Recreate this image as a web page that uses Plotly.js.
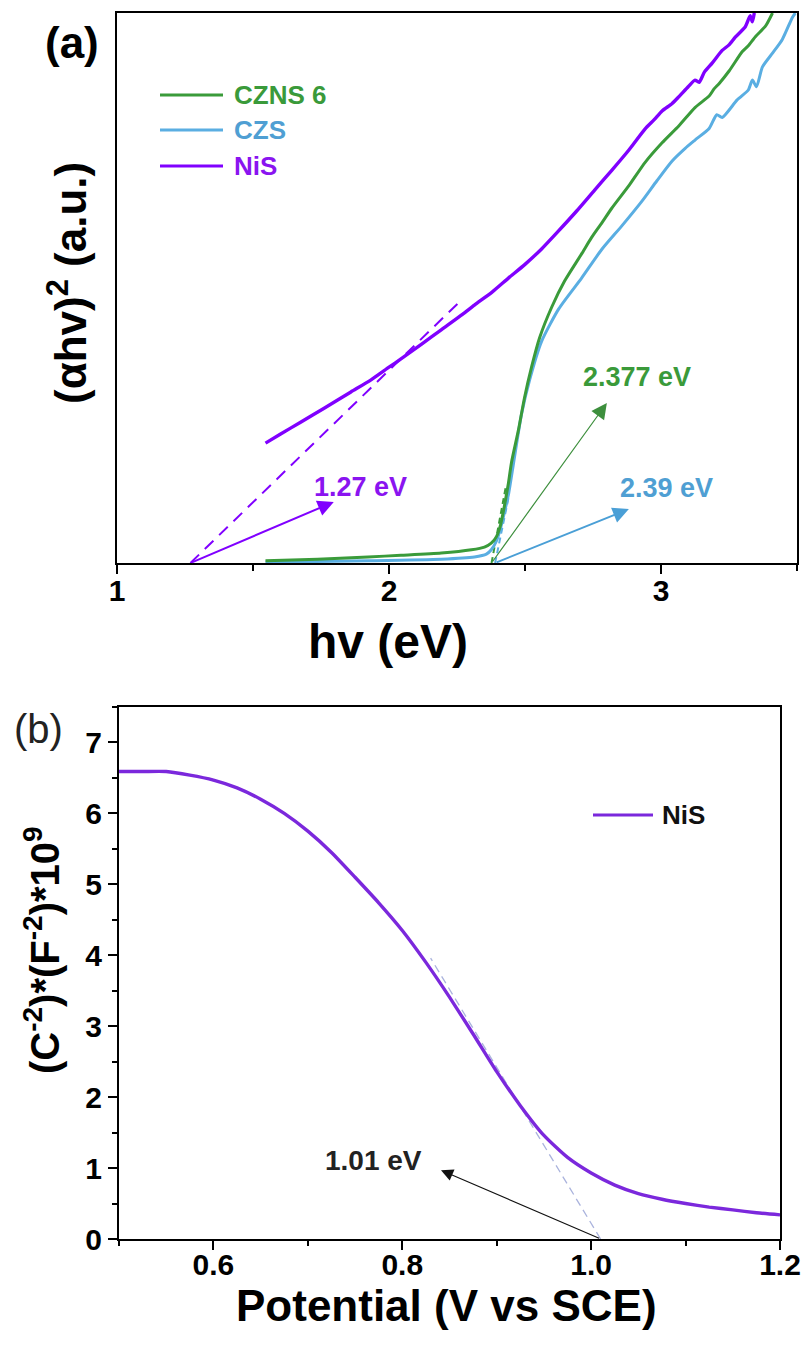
<!DOCTYPE html>
<html>
<head>
<meta charset="utf-8">
<script src="https://cdn.plot.ly/plotly-3.0.1.min.js"></script>
<style>
  html, body { margin: 0; padding: 0; background: #fff; }
  #fig { width: 806px; height: 1345px; }
</style>
</head>
<body>
<div id="fig"></div>
<script>
// ---- (a) Tauc plot: photon energy (eV) vs (αhv)^2 (a.u.) ----
const hvNiS  = [1.546,1.600,1.675,1.760,1.860,1.934,2.000,2.044,2.120,2.192,2.270,2.314,2.380,2.439,2.500,2.561,2.620,2.690,2.756,2.819,2.882,2.941,2.975,3.004,3.040,3.066,3.100,3.125,3.140,3.160,3.188,3.225,3.250,3.273,3.310,3.328,3.336,3.343];
const ahvNiS = [0.218,0.234,0.256,0.281,0.311,0.333,0.356,0.371,0.398,0.424,0.452,0.469,0.493,0.518,0.543,0.571,0.602,0.640,0.678,0.714,0.751,0.789,0.806,0.822,0.835,0.848,0.866,0.878,0.874,0.893,0.909,0.932,0.942,0.956,0.975,0.995,0.984,1.000];

const hvCZNS  = [1.546,1.675,1.800,1.923,2.044,2.192,2.303,2.351,2.376,2.395,2.410,2.424,2.439,2.450,2.476,2.498,2.524,2.554,2.598,2.646,2.708,2.745,2.782,2.819,2.882,2.941,3.004,3.066,3.125,3.177,3.195,3.214,3.251,3.299,3.320,3.347,3.384,3.410];
const ahvCZNS = [0.004,0.006,0.008,0.011,0.014,0.018,0.024,0.029,0.036,0.048,0.069,0.103,0.145,0.182,0.242,0.300,0.356,0.410,0.465,0.513,0.562,0.592,0.618,0.645,0.686,0.728,0.764,0.795,0.828,0.849,0.862,0.872,0.895,0.930,0.940,0.957,0.976,1.000];

const hvCZS  = [1.546,1.800,1.923,2.192,2.314,2.358,2.376,2.395,2.413,2.428,2.439,2.458,2.487,2.517,2.561,2.624,2.708,2.782,2.856,2.930,2.985,3.041,3.089,3.125,3.177,3.205,3.225,3.280,3.321,3.336,3.351,3.373,3.410,3.446,3.483,3.494];
const ahvCZS = [0.002,0.003,0.004,0.007,0.011,0.016,0.024,0.040,0.069,0.100,0.124,0.182,0.270,0.333,0.403,0.462,0.518,0.570,0.613,0.658,0.695,0.731,0.754,0.769,0.790,0.815,0.810,0.842,0.860,0.878,0.866,0.902,0.927,0.952,0.992,1.000];

// band-gap intercepts and their linear extrapolations
const gapNiS = 1.27, gapCZNS = 2.377, gapCZS = 2.39;
const tangentNiSx = [gapNiS, 2.27],   tangentNiSy = [0, 0.48];
const tangentCZNSx = [gapCZNS, 2.43], tangentCZNSy = [0, 0.14];
const tangentCZSx = [gapCZS, 2.44],   tangentCZSy = [0, 0.12];
// arrow tips pointing from each intercept towards its label
const arrowTipNiS  = [1.797, 0.111];
const arrowTipCZNS = [2.801, 0.291];
const arrowTipCZS  = [2.882, 0.098];

// ---- (b) Mott–Schottky plot for NiS ----
const potential = [0.500,0.525,0.550,0.575,0.600,0.625,0.650,0.675,0.700,0.725,0.750,0.775,0.800,0.825,0.850,0.875,0.900,0.925,0.950,0.975,1.000,1.025,1.050,1.075,1.100,1.125,1.150,1.175,1.200];
const mottNiS   = [6.59,6.59,6.59,6.54,6.47,6.36,6.20,6.00,5.75,5.45,5.10,4.74,4.35,3.90,3.41,2.89,2.36,1.88,1.46,1.15,0.93,0.76,0.64,0.56,0.50,0.45,0.41,0.37,0.34];
const flatbandNiS = 1.01;
const tangentMSx = [flatbandNiS, 0.83], tangentMSy = [0, 3.96];
const arrowTipMS = [0.841, 0.97];

const xTicksA = [1, 2, 3];
const xTicksB = [0.6, 0.8, 1.0, 1.2];

// ---- styling ----
const W = 806, H = 1345;
const px = v => v / W;
const py = v => 1 - v / H;
const FONT = 'Arial, "Liberation Sans", sans-serif';
const cGreen = '#3a9b3a', cBlue = '#5aaee2', cPurple = '#8000ff', cPurpleB = '#7b28dc';
const cGreenTxt = '#3a9a3a', cBlueTxt = '#4f9fd3', cPurpleTxt = '#8a14f0';

const curve = (x, y, xa, ya, color, width) => ({
  x: x, y: y, xaxis: xa, yaxis: ya, mode: 'lines', showlegend: false,
  line: {color: color, width: width, shape: 'spline', smoothing: 0.6}
});
const dashed = (x, y, xa, ya, color, width, dash) => ({
  x: x, y: y, xaxis: xa, yaxis: ya, mode: 'lines', showlegend: false, hoverinfo: 'skip',
  line: {color: color, width: width, dash: dash}
});

const traces = [
  dashed(tangentNiSx, tangentNiSy, 'x', 'y', cPurple, 2, '12px,8px'),
  dashed(tangentCZNSx, tangentCZNSy, 'x', 'y', cGreen, 2, '6px,4px'),
  dashed(tangentCZSx, tangentCZSy, 'x', 'y', cBlue, 2, '6px,4px'),
  Object.assign(curve(hvCZS, ahvCZS, 'x', 'y', cBlue, 3), {name: 'CZS'}),
  Object.assign(curve(hvCZNS, ahvCZNS, 'x', 'y', cGreen, 3), {name: 'CZNS 6'}),
  Object.assign(curve(hvNiS, ahvNiS, 'x', 'y', cPurple, 3.4), {name: 'NiS'}),

  dashed(tangentMSx, tangentMSy, 'x2', 'y2', '#aab3dd', 1.3, '8px,5px'),
  Object.assign(curve(potential, mottNiS, 'x2', 'y2', cPurpleB, 3.4), {name: 'NiS'})
];

const axisCommon = {
  showline: true, linecolor: '#000', linewidth: 2, mirror: true,
  showgrid: false, zeroline: false,
  tickcolor: '#000', tickwidth: 2,
  tickfont: {family: FONT, size: 30, color: '#000', weight: 'bold'}
};

const layout = {
  width: W, height: H,
  margin: {l: 0, r: 0, t: 0, b: 0},
  paper_bgcolor: '#fff', plot_bgcolor: '#fff',
  showlegend: false,
  xaxis: Object.assign({}, axisCommon, {
    domain: [px(117), px(797)], anchor: 'y', range: [1, 3.5],
    tickmode: 'array', tickvals: xTicksA, ticks: 'outside', ticklen: 9, ticklabelstandoff: -9,
    minor: {dtick: 0.5, tick0: 1, ticks: 'outside', ticklen: 6, tickwidth: 2, tickcolor: '#000'}
  }),
  yaxis: Object.assign({}, axisCommon, {
    domain: [py(563), py(13)], anchor: 'x', range: [0, 1],
    ticks: '', showticklabels: false
  }),
  xaxis2: Object.assign({}, axisCommon, {
    domain: [px(119), px(780)], anchor: 'y2', range: [0.5, 1.2],
    tickmode: 'array', tickvals: xTicksB, tickformat: '.1f', ticks: 'outside', ticklen: 9, ticklabelstandoff: -11,
    minor: {dtick: 0.1, tick0: 0.5, ticks: 'outside', ticklen: 5, tickwidth: 2, tickcolor: '#000'}
  }),
  yaxis2: Object.assign({}, axisCommon, {
    domain: [py(1239), py(707)], anchor: 'x2', range: [0, 7.5],
    dtick: 1, tick0: 0, ticks: 'outside', ticklen: 9,
    minor: {dtick: 0.5, tick0: 0, ticks: 'outside', ticklen: 5, tickwidth: 2, tickcolor: '#000'}
  }),
  shapes: [
    // legend keys, panel (a)
    {type: 'line', xref: 'paper', yref: 'paper', x0: px(160), x1: px(223), y0: py(95), y1: py(95), line: {color: cGreen, width: 3}},
    {type: 'line', xref: 'paper', yref: 'paper', x0: px(160), x1: px(223), y0: py(130), y1: py(130), line: {color: cBlue, width: 3}},
    {type: 'line', xref: 'paper', yref: 'paper', x0: px(160), x1: px(223), y0: py(166), y1: py(166), line: {color: cPurple, width: 3}},
    // legend key, panel (b)
    {type: 'line', xref: 'paper', yref: 'paper', x0: px(593), x1: px(653), y0: py(815), y1: py(815), line: {color: cPurpleB, width: 3}}
  ],
  annotations: []
};

const A = layout.annotations;
const txt = (text, x, y, size, color, opts) => A.push(Object.assign({
  text: text, x: x, y: y, xref: 'paper', yref: 'paper', showarrow: false,
  font: {family: FONT, size: size, color: color, weight: 'bold'},
  xanchor: 'center', yanchor: 'middle'
}, opts || {}));

// panel labels and axis titles
txt('(a)', px(72), py(42), 44, '#000');
txt('(b)', px(38), py(729), 40, '#222', {font: {family: FONT, size: 40, color: '#222', weight: 'normal'}});
txt('(αhv)<sup>2</sup> (a.u.)', px(68), py(283), 44, '#000', {textangle: -90});
txt('hv (eV)', px(388), py(641), 48, '#000');
txt('(C<sup>-2</sup>)*(F<sup>-2</sup>)*10<sup>9</sup>', px(42), py(950), 40, '#000', {textangle: -90});
txt('Potential (V vs SCE)', px(447), py(1305), 44, '#000');

// legend text
txt('CZNS 6', px(232), py(95), 26, cGreenTxt, {xanchor: 'left'});
txt('CZS', px(232), py(130), 26, cBlueTxt, {xanchor: 'left'});
txt('NiS', px(232), py(166), 26, cPurpleTxt, {xanchor: 'left'});
txt('NiS', px(660), py(815), 26, '#111', {xanchor: 'left'});

// arrows from each intercept
const arrow = (tip, tail, xr, yr, color, width, size) => A.push({
  x: tip[0], y: tip[1], ax: tail[0], ay: tail[1],
  xref: xr, yref: yr, axref: xr, ayref: yr,
  text: '', showarrow: true, arrowhead: 2, arrowsize: size, arrowwidth: width,
  arrowcolor: color, standoff: 0, startstandoff: 0
});
arrow(arrowTipNiS, [gapNiS, 0], 'x', 'y', cPurple, 2, 1.6);
arrow(arrowTipCZNS, [gapCZNS, 0], 'x', 'y', '#3d8f3d', 1.2, 2.6);
arrow(arrowTipCZS, [gapCZS, 0], 'x', 'y', '#4a9fd6', 2, 1.6);
arrow(arrowTipMS, [flatbandNiS, 0], 'x2', 'y2', '#111', 1.1, 2.2);

// intercept values
const val = (text, x, y, xr, yr, size, color) => A.push({
  text: text, x: x, y: y, xref: xr, yref: yr, showarrow: false,
  font: {family: FONT, size: size, color: color, weight: 'bold'},
  xanchor: 'center', yanchor: 'middle'
});
val(gapNiS.toFixed(2) + ' eV', 1.897, 0.138, 'x', 'y', 27, cPurpleTxt);
val(gapCZNS.toFixed(3) + ' eV', 2.911, 0.338, 'x', 'y', 27, cGreenTxt);
val(gapCZS.toFixed(2) + ' eV', 3.022, 0.136, 'x', 'y', 27, cBlueTxt);
val(flatbandNiS.toFixed(2) + ' eV', 0.770, 1.11, 'x2', 'y2', 28, '#222');

Plotly.newPlot('fig', traces, layout, {staticPlot: true, displayModeBar: false});
</script>
</body>
</html>
